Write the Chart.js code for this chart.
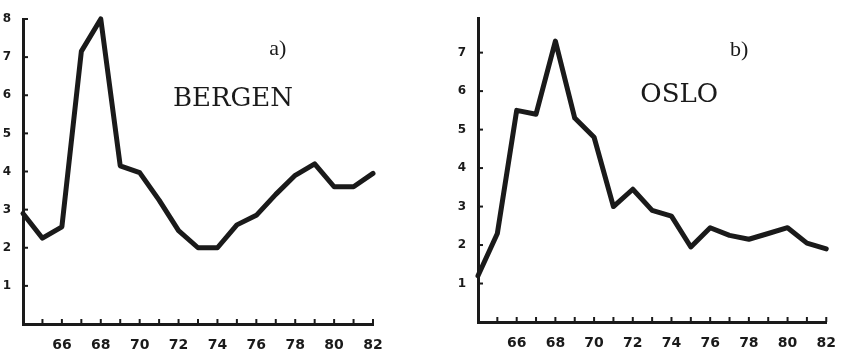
<!DOCTYPE html>
<html>
<head>
<meta charset="utf-8">
<script src="https://cdn.jsdelivr.net/npm/chart.js@4.4.1/dist/chart.umd.min.js"></script>
<style>
  body { margin: 0; background: #fff; }
  #wrap { position: relative; width: 841px; height: 353px; }
  canvas { position: absolute; top: 0; }
</style>
</head>
<body>
<div id="wrap">
  <canvas id="bergen" width="420" height="353" style="left:0"></canvas>
  <canvas id="oslo" width="421" height="353" style="left:420px"></canvas>
</div>
<script>
const years = [64, 65, 66, 67, 68, 69, 70, 71, 72, 73, 74, 75, 76, 77, 78, 79, 80, 81, 82];
const bergen = [2.9, 2.25, 2.55, 7.15, 8.0, 4.15, 3.97, 3.25, 2.45, 2.0, 2.0, 2.6, 2.85, 3.4, 3.9, 4.2, 3.6, 3.6, 3.95];
const oslo = [1.2, 2.3, 5.5, 5.4, 7.3, 5.3, 4.8, 3.0, 3.45, 2.9, 2.75, 1.95, 2.45, 2.25, 2.15, 2.3, 2.45, 2.05, 1.9];
const yearLabels = [66, 68, 70, 72, 74, 76, 78, 80, 82];

const INK = "#1a1a1a";

// short tick marks drawn inside the axes, like the hand-drawn original
const innerTicks = {
  id: "innerTicks",
  afterDraw(chart) {
    const { ctx, scales: { x, y } } = chart;
    ctx.save();
    ctx.strokeStyle = INK;
    ctx.lineWidth = 2;
    x.ticks.forEach(t => {
      if (t.value <= x.min) return;
      const px = x.getPixelForValue(t.value);
      ctx.beginPath();
      ctx.moveTo(px, y.bottom);
      ctx.lineTo(px, y.bottom - 5);
      ctx.stroke();
    });
    y.ticks.forEach(t => {
      if (t.value <= 0 || !Number.isInteger(t.value)) return;
      const py = y.getPixelForValue(t.value);
      ctx.beginPath();
      ctx.moveTo(x.left, py);
      ctx.lineTo(x.left + 5, py);
      ctx.stroke();
    });
    ctx.restore();
  }
};

// text notes placed in data coordinates
const notes = {
  id: "notes",
  afterDraw(chart, args, opts) {
    const { ctx, scales: { x, y } } = chart;
    ctx.save();
    ctx.fillStyle = INK;
    ctx.textAlign = "center";
    ctx.textBaseline = "middle";
    (opts.items || []).forEach(n => {
      ctx.font = n.font;
      ctx.fillText(n.text, x.getPixelForValue(n.x), y.getPixelForValue(n.y));
    });
    ctx.restore();
  }
};

function makeChart(id, values, yMax, yWidth, xHeight, padding, items) {
  const xFont = { family: "DejaVu Sans", weight: "bold", size: 14 };
  const yFont = { family: "DejaVu Sans", weight: "bold", size: 12 };
  return new Chart(document.getElementById(id), {
    type: "line",
    data: {
      datasets: [{
        data: years.map((yr, i) => ({ x: yr, y: values[i] })),
        borderColor: INK,
        borderWidth: 5,
        borderJoinStyle: "round",
        borderCapStyle: "round",
        pointRadius: 0,
        tension: 0,
        clip: false
      }]
    },
    options: {
      responsive: false,
      animation: false,
      layout: { padding },
      plugins: {
        legend: { display: false },
        tooltip: { enabled: false },
        notes: { items }
      },
      scales: {
        x: {
          type: "linear",
          min: 64,
          max: 82,
          grid: { display: false },
          border: { display: true, color: INK, width: 3 },
          ticks: {
            stepSize: 1,
            autoSkip: false,
            maxRotation: 0,
            padding: 5,
            color: INK,
            font: xFont,
            callback: v => yearLabels.includes(v) ? String(v) : ""
          },
          afterFit: s => { s.height = xHeight; }
        },
        y: {
          min: 0,
          max: yMax,
          grid: { display: false },
          border: { display: true, color: INK, width: 3 },
          ticks: {
            stepSize: 1,
            padding: 4,
            color: INK,
            font: yFont,
            callback: v => (v > 0 && Number.isInteger(v)) ? String(v) : ""
          },
          afterFit: s => { s.width = yWidth; }
        }
      }
    },
    plugins: [innerTicks, notes]
  });
}

makeChart("bergen", bergen, 8.0, 23, 29, { top: 19, right: 47, left: 0, bottom: 0 }, [
  { text: "a)", x: 77.1, y: 7.2, font: "22px 'Liberation Serif'" },
  { text: "BERGEN", x: 74.8, y: 5.9, font: "26px 'DejaVu Serif'" }
]);

makeChart("oslo", oslo, 7.9, 58, 31, { top: 18, right: 10, left: 0, bottom: 0 }, [
  { text: "b)", x: 77.5, y: 7.06, font: "22px 'Liberation Serif'" },
  { text: "OSLO", x: 74.4, y: 5.9, font: "26px 'DejaVu Serif'" }
]);
</script>
</body>
</html>
